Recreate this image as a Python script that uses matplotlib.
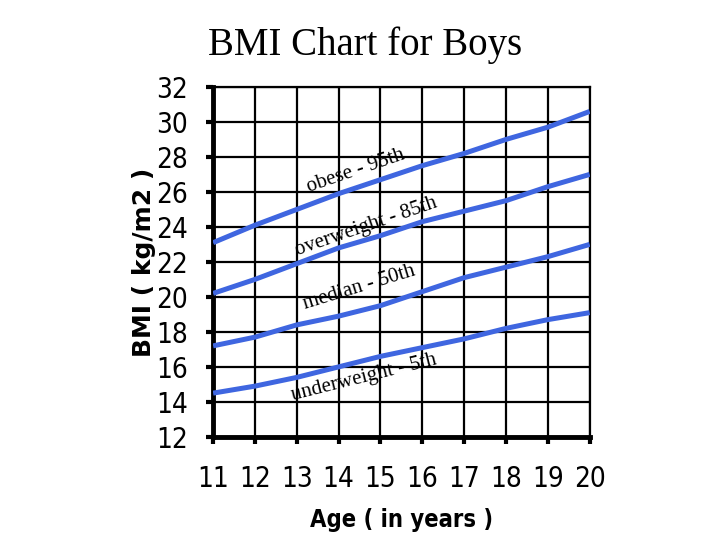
import matplotlib
matplotlib.use("Agg")
import matplotlib.pyplot as plt

ages = [11, 12, 13, 14, 15, 16, 17, 18, 19, 20]
obese_95 = [23.1, 24.1, 25.0, 25.9, 26.7, 27.5, 28.2, 29.0, 29.7, 30.6]
overweight_85 = [20.2, 21.0, 21.9, 22.8, 23.5, 24.3, 24.9, 25.5, 26.3, 27.0]
median_50 = [17.2, 17.7, 18.4, 18.9, 19.5, 20.3, 21.1, 21.7, 22.3, 23.0]
underweight_5 = [14.5, 14.9, 15.4, 16.0, 16.6, 17.1, 17.6, 18.2, 18.7, 19.1]

series = [obese_95, overweight_85, median_50, underweight_5]
labels = ["obese - 95th", "overweight - 85th", "median - 50th", "underweight - 5th"]
label_pos = [(14.4, 27.2, 19), (14.65, 24.0, 19), (14.5, 20.5, 17), (14.6, 15.4, 14)]

serif = ["Liberation Serif", "DejaVu Serif"]

fig = plt.figure(figsize=(7.2, 5.4), dpi=100)
ax = fig.add_axes([0.296, 0.191, 0.523, 0.648])

for s in series:
    ax.plot(ages, s, color="#3f66e0", linewidth=3.6, solid_capstyle="butt", zorder=3)

for txt, (x, y, rot) in zip(labels, label_pos):
    ax.text(x, y, txt, rotation=rot, ha="center", va="center",
            fontsize=15, family=serif, zorder=4)

ax.set_xlim(11, 20)
ax.set_ylim(12, 32)
ax.set_xticks(ages)
ax.set_yticks(range(12, 33, 2))
ax.grid(True, color="black", linewidth=1.6)
ax.set_axisbelow(True)

for side in ["top", "right"]:
    ax.spines[side].set_linewidth(1.6)
for side in ["left", "bottom"]:
    ax.spines[side].set_linewidth(3.5)
ax.tick_params(direction="out", length=5, width=3)
ax.tick_params(axis="x", pad=15)
ax.tick_params(axis="y", pad=13)

for lab in ax.get_xticklabels() + ax.get_yticklabels():
    lab.set_family("DejaVu Sans")
    lab.set_stretch("condensed")
    lab.set_fontsize(20)

ax.set_xlabel("Age ( in years )", fontsize=17, fontweight="bold", labelpad=11,
              family="DejaVu Sans", stretch="condensed")
ax.set_ylabel("BMI ( kg/m2 )", fontsize=18, fontweight="bold", labelpad=0,
              family="DejaVu Sans")
fig.text(0.507, 0.917, "BMI Chart for Boys", ha="center", va="center",
         fontsize=28, family=serif)

fig.savefig("out.png", dpi=100)
